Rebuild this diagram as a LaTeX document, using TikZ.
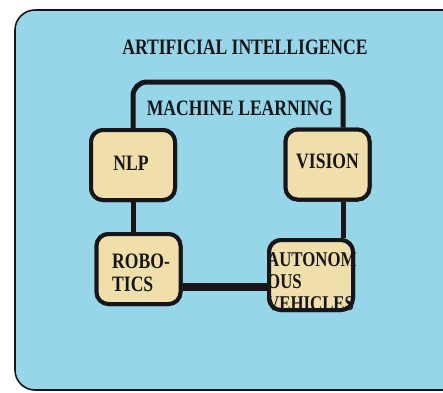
\documentclass[tikz,border=0pt]{standalone}
\usepackage{fontspec}
\newfontfamily\labfont{Liberation Serif}[FakeStretch=0.8]
\definecolor{aiblue}{RGB}{150,214,232}
\definecolor{boxfill}{RGB}{240,223,170}
\definecolor{ink}{RGB}{22,22,26}
\tikzset{
  outerbox/.style={draw=ink, line width=1.6pt, fill=aiblue, rounded corners=20pt},
  boxnode/.style={draw=ink, line width=4pt, fill=boxfill, rounded corners=12pt,
    minimum width=84pt, minimum height=70pt, inner sep=0pt},
  lab/.style={font=\labfont\bfseries\fontsize{22}{23}\selectfont, text=ink, inner sep=0pt},
  mlline/.style={draw=ink, line width=5pt, rounded corners=14pt},
  thickline/.style={draw=ink, line width=8pt}
}
\begin{document}
\begin{tikzpicture}[x=1pt,y=-1pt]
\useasboundingbox (0,0) rectangle (443,392);
\fill[white] (0,0) rectangle (443,392);
\begin{scope}
\clip (0,0) rectangle (443,392);
\draw[outerbox] (15,10) rectangle (475,390);
\end{scope}
\coordinate (tl) at (133,82);
\coordinate (tr) at (343,82);
\coordinate (bl) at (0,287);
\node[boxnode] (nlp) at (133,165) {};
\node[boxnode] (vis) at (327.5,164.5) {};
\node[boxnode] (rob) at (138.5,269) {};
\node[boxnode] (auto) at (311,275) {};
\draw[mlline] (nlp.north) -- (tl) -- (tr) -- (vis.north -| tr);
\draw[mlline] (nlp.south) -- (nlp.south |- rob.north);
\draw[mlline] (vis.south -| tr) -- (auto.north -| tr);
\draw[thickline] (rob.east |- bl) -- (auto.west |- bl);
\node[boxnode] at (nlp) {};
\node[boxnode] at (vis) {};
\node[boxnode] at (rob) {};
\node[boxnode] at (auto) {};
\node[lab, anchor=base] (ai) at (245,54) {ARTIFICIAL INTELLIGENCE};
\node[lab, anchor=base] (ml) at (240,115) {MACHINE LEARNING};
\node[lab, anchor=base] (nlpt) at (131,170) {NLP};
\node[lab, anchor=base] (vist) at (327.5,168) {VISION};
\node[lab, anchor=west, align=left] (robt) at (112,273) {ROBO-\\TICS};
\node[lab, anchor=west, align=left, font=\labfont\bfseries\fontsize{21}{22}\selectfont] (autot) at (267,282) {AUTONOM\\OUS\\VEHICLES};
\end{tikzpicture}
\end{document}
